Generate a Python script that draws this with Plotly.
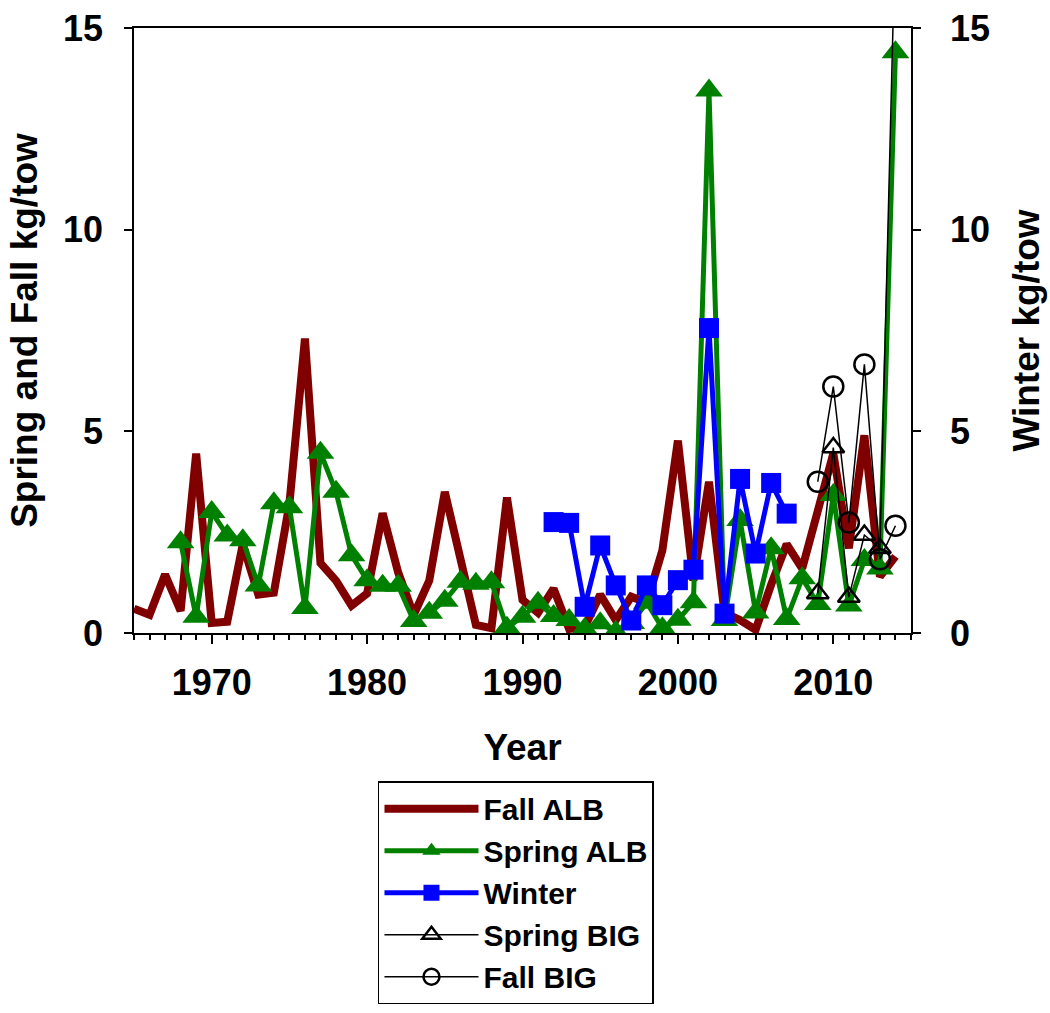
import plotly.graph_objects as go

# ---------------- data ----------------
fall_alb_years = list(range(1965, 2015))
fall_alb = [0.6, 0.45, 1.45, 0.55, 4.45, 0.25, 0.28, 2.2, 0.95, 1.0,
            3.2, 7.3, 1.73, 1.3, 0.68, 0.98, 2.97, 1.5, 0.45, 1.3,
            3.5, 1.85, 0.2, 0.12, 3.36, 0.82, 0.5, 1.1, 0.1, 0.15,
            0.95, 0.32, 0.9, 0.75, 2.05, 4.77, 1.3, 3.75, 0.5, 0.32,
            0.08, 1.2, 2.2, 1.6, 3.0, 4.45, 2.1, 4.9, 1.4, 1.9]

spring_alb_years = list(range(1968, 2015))
spring_alb = [2.25, 0.4, 3.0, 2.42, 2.3, 1.18, 3.22, 3.12, 0.62, 4.47,
              3.5, 1.93, 1.31, 1.17, 1.17, 0.3, 0.5, 0.8, 1.27, 1.22,
              1.26, 0.13, 0.4, 0.75, 0.42, 0.32, 0.1, 0.24, 0.03, 0.25,
              0.75, 0.12, 0.33, 0.76, 13.45, 0.32, 2.8, 0.51, 2.1, 0.35,
              1.36, 0.72, 3.42, 0.68, 1.81, 1.6, 14.4]

winter_years = list(range(1992, 2008))
winter = [2.75, 2.73, 0.65, 2.17, 1.18, 0.31, 1.18, 0.69, 1.31, 1.57,
          7.56, 0.48, 3.82, 1.97, 3.72, 2.96]

spring_big_years = list(range(2009, 2015))
spring_big = [0.98, 4.6, 0.89, 2.43, 2.1, 17.5]

fall_big_years = list(range(2009, 2015))
fall_big = [3.75, 6.11, 2.74, 6.66, 1.83, 2.66]

x_tick_vals = [1970, 1980, 1990, 2000, 2010]
x_tick_text = ["1970", "1980", "1990", "2000", "2010"]
y_tick_vals = [0, 5, 10, 15]
y_tick_text = ["0", "5", "10", "15"]

# ---------------- figure ----------------
FONT = "Liberation Sans, Arial, sans-serif"
fig = go.Figure()

fig.add_trace(go.Scatter(
    x=fall_alb_years, y=fall_alb, name="Fall ALB", mode="lines",
    line=dict(color="#800000", width=8), legendrank=1))
fig.add_trace(go.Scatter(
    x=spring_alb_years, y=spring_alb, name="Spring ALB", mode="lines+markers",
    line=dict(color="#008000", width=5),
    marker=dict(symbol="triangle-up", size=24, color="#008000"), legendrank=2))
fig.add_trace(go.Scatter(
    x=spring_big_years, y=spring_big, name="Spring BIG", mode="lines+markers",
    line=dict(color="black", width=1.5),
    marker=dict(symbol="triangle-up-open", size=19, color="black",
                line=dict(width=2.5, color="black")), legendrank=4))
fig.add_trace(go.Scatter(
    x=fall_big_years, y=fall_big, name="Fall BIG", mode="lines+markers",
    line=dict(color="black", width=1.5),
    marker=dict(symbol="circle-open", size=20, color="black",
                line=dict(width=2.5, color="black")), legendrank=5))
fig.add_trace(go.Scatter(
    x=winter_years, y=winter, name="Winter", mode="lines+markers", yaxis="y2",
    line=dict(color="#0000FF", width=5),
    marker=dict(symbol="square", size=20, color="#0000FF"), legendrank=3))

tickfont = dict(family=FONT, size=36, color="black", weight="bold")
titlefont = dict(family=FONT, size=37, color="black", weight="bold")

fig.update_layout(
    width=1050, height=1013,
    margin=dict(l=134, r=139, t=28, b=380, autoexpand=False),
    paper_bgcolor="white", plot_bgcolor="white",
    showlegend=True,
    legend=dict(
        x=0.314, y=-0.245, xanchor="left", yanchor="top",
        font=dict(family=FONT, size=30, color="black", weight="bold"),
        bordercolor="black", borderwidth=1.5, bgcolor="white",
        itemwidth=94, traceorder="normal",
    ),
    xaxis=dict(
        range=[1965, 2015], showgrid=False, zeroline=False, automargin=False,
        showline=True, linecolor="black", linewidth=1.5, mirror=True,
        tickmode="array", tickvals=x_tick_vals, ticktext=x_tick_text,
        ticks="outside", ticklen=9, tickwidth=1.5, tickcolor="black",
        minor=dict(dtick=1, tick0=1965, ticks="outside", ticklen=5,
                   tickwidth=1.5, tickcolor="black"),
        tickfont=tickfont, ticklabelstandoff=8,
        title=dict(text="Year", font=titlefont, standoff=32),
    ),
    yaxis=dict(
        range=[0, 15], showgrid=False, zeroline=False, automargin=False,
        showline=True, linecolor="black", linewidth=1.5,
        tickmode="array", tickvals=y_tick_vals, ticktext=y_tick_text,
        ticks="outside", ticklen=8, tickwidth=1.5, tickcolor="black",
        tickfont=tickfont, ticklabelstandoff=14,
        title=dict(text="Spring and Fall kg/tow", font=titlefont, standoff=14),
    ),
    yaxis2=dict(
        range=[0, 15], overlaying="y", side="right", automargin=False,
        showgrid=False, zeroline=False,
        showline=True, linecolor="black", linewidth=1.5,
        tickmode="array", tickvals=y_tick_vals, ticktext=y_tick_text,
        ticks="outside", ticklen=8, tickwidth=1.5, tickcolor="black",
        tickfont=tickfont, ticklabelstandoff=22,
        title=dict(text="Winter kg/tow", font=titlefont, standoff=24),
    ),
)

fig.write_html("out.html")
